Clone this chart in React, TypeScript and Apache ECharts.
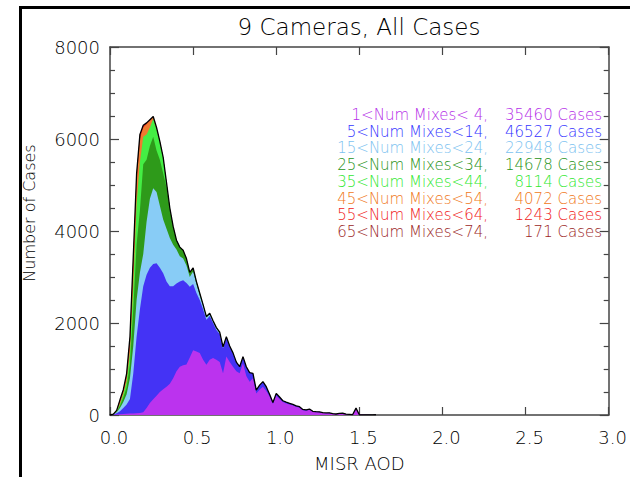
import React, { useEffect, useRef } from "react";
import * as echarts from "echarts";

// AOD bin positions (bin width 0.02)
const aodBins = [
  0, 0.02, 0.04, 0.06, 0.08, 0.1, 0.12, 0.14, 0.16, 0.18,
  0.2, 0.22, 0.24, 0.26, 0.28, 0.3, 0.32, 0.34, 0.36, 0.38,
  0.4, 0.42, 0.44, 0.46, 0.48, 0.5, 0.52, 0.54, 0.56, 0.58,
  0.6, 0.62, 0.64, 0.66, 0.68, 0.7, 0.72, 0.74, 0.76, 0.78,
  0.8, 0.82, 0.84, 0.86, 0.88, 0.9, 0.92, 0.94, 0.96, 0.98,
  1.0, 1.02, 1.04, 1.06, 1.08, 1.1, 1.12, 1.14, 1.16, 1.18,
  1.2, 1.22, 1.24, 1.26, 1.28, 1.3, 1.32, 1.34, 1.36, 1.38,
  1.4, 1.42, 1.44, 1.46, 1.48, 1.5, 1.52, 1.54, 1.56, 1.58,
  1.6,
];

// Cumulative (stacked) number of cases, groups summed from the lowest mix range up
const cumThrough74 = [
  0, 20, 100, 330, 550, 900, 1700, 3450, 5250, 6100,
  6300, 6350, 6420, 6490, 6250, 5950, 5600, 5050, 4500, 4100,
  3800, 3650, 3580, 3400, 3100, 3200, 2900, 2650, 2400, 2140,
  2210, 2050, 1900, 1800, 1480, 1700, 1500, 1350, 1150, 1050,
  1270, 1050, 920, 905, 540, 650, 725, 615, 450, 270,
  470, 390, 310, 280, 255, 230, 200, 180, 120, 110,
  130, 80, 72, 70, 50, 45, 48, 30, 22, 35,
  38, 20, 15, 10, 150, 5, 4, 3, 3, 2,
  5,
];
const cumThrough64 = [
  0, 20, 98, 320, 540, 880, 1660, 3400, 5220, 6080,
  6290, 6345, 6415, 6488, 6249, 5950, 5600, 5050, 4500,
];
const cumThrough54 = [
  0, 18, 90, 290, 510, 830, 1550, 3200, 5100, 6000,
  6250, 6320, 6400, 6480, 6245, 5948, 5598, 5050, 4500,
];
const cumThrough44 = [
  0, 16, 80, 240, 450, 730, 1350, 2800, 4600, 5500,
  6050, 6100, 6250, 6440, 6220, 5935, 5590, 5045, 4500,
];
const cumThrough34 = [
  0, 14, 70, 200, 380, 600, 1100, 2300, 3700, 4450,
  5450, 5550, 5850, 6050, 5750, 5550, 5250, 4950, 4500, 4100,
  3800, 3650, 3580, 3400, 3100, 3200, 2900, 2650, 2400, 2140,
  2210, 2050, 1900, 1800, 1480, 1700, 1500, 1350, 1150,
];
const cumThrough24 = [
  0, 12, 60, 150, 280, 450, 800, 1500, 2500, 3100,
  3500, 4200, 4700, 4930, 4850, 4550, 4250, 4050, 3850, 3700,
  3600, 3450, 3400, 3250, 3000, 3120, 2850, 2600, 2380, 2120,
  2190, 2035, 1885, 1790, 1470, 1690, 1500, 1350, 1150,
];
const cumThrough14 = [
  0, 10, 40, 80, 150, 230, 350, 900, 1700, 2300,
  2800, 3050, 3200, 3280, 3300, 3200, 3080, 2900, 2800, 2800,
  2860, 2900, 2930, 2870, 2790, 2850, 2650, 2500, 2300, 2070,
  2150, 2000, 1850, 1760, 1450, 1670, 1480, 1330, 1150, 1050,
  1270, 1050, 920, 905, 540, 650, 725, 615, 450, 270,
  470, 390, 310, 280, 255, 230, 200, 180, 120, 110,
  130, 80, 72, 70, 50, 45, 48, 30, 22, 35,
  38, 20, 15, 10, 150, 5, 4, 3, 3, 2,
  5,
];
const cumThrough4 = [
  0, 5, 10, 15, 20, 25, 30, 35, 40, 45,
  60, 150, 260, 340, 420, 500, 560, 615, 680, 800,
  950, 1050, 1080, 1100, 1250, 1410, 1380, 1350, 1200, 1090,
  1200, 1240, 1200, 1150, 905, 1270, 1150, 1050, 950, 905,
  1125, 850, 725, 800, 470, 550, 615, 520, 400, 240,
  420, 350, 280, 250, 230, 205, 180, 160, 105, 95,
  115, 70, 62, 60, 42, 38, 40, 25, 18, 30,
  32, 16, 12, 8, 140, 4, 3, 2, 2, 1,
  4,
];

const mixRanges = [
  "1<Num Mixes< 4,",
  "5<Num Mixes<14,",
  "15<Num Mixes<24,",
  "25<Num Mixes<34,",
  "35<Num Mixes<44,",
  "45<Num Mixes<54,",
  "55<Num Mixes<64,",
  "65<Num Mixes<74,",
];
const caseCounts = [35460, 46527, 22948, 14678, 8114, 4072, 1243, 171];

const fillColors = ["#bb33ee", "#4433f5", "#88ccf6", "#2e9a1a", "#44ee44", "#f07a30", "#e82222", "#a02424"];
const textColors = ["#b52ee8", "#3434ff", "#7cc2f0", "#1f9216", "#2fe82f", "#f07820", "#f01818", "#9a1e1e"];

const FONT = "'DejaVu Sans', Verdana, sans-serif";
const INK = "#000";

export default function App() {
  const ref = useRef<HTMLDivElement>(null);

  useEffect(() => {
    if (!ref.current) return;
    const chart = echarts.init(ref.current, null, { renderer: "svg" });
    const pairs = (ys: number[]) => ys.map((y, i) => [aodBins[i], y]);

    const layers = [
      cumThrough4,
      cumThrough14,
      cumThrough24,
      cumThrough34,
      cumThrough44,
      cumThrough54,
      cumThrough64,
      cumThrough74,
    ];

    const areaSeries: any[] = [];
    for (let k = layers.length - 1; k >= 0; k--) {
      areaSeries.push({
        type: "line",
        name: mixRanges[k],
        data: pairs(layers[k]),
        symbol: "none",
        showSymbol: false,
        silent: true,
        lineStyle: { width: 0, opacity: 0 },
        areaStyle: { color: fillColors[k], opacity: 1 },
        z: 2,
      });
    }
    areaSeries.push({
      type: "line",
      name: "outline",
      data: pairs(cumThrough74),
      symbol: "none",
      showSymbol: false,
      silent: true,
      lineStyle: { width: 1.3, color: "#000" },
      z: 3,
    });

    const axisLine = { show: true, onZero: false, lineStyle: { color: "#444", width: 1.5 } };
    const tickStyle = { color: "#444", width: 1.2 };
    const txt = (extra: any) => ({
      fontFamily: FONT,
      fontWeight: 200,
      verticalAlign: "middle",
      textVerticalAlign: "middle",
      ...extra,
    });

    const graphic: any[] = [
      {
        type: "polyline",
        shape: { points: [[20.5, 477], [20.5, 7.5], [630, 7.5]] },
        style: { stroke: "#000", lineWidth: 3, fill: null },
        silent: true,
      },
      {
        type: "text",
        x: 359,
        y: 27,
        style: txt({ text: "9 Cameras, All Cases", fill: INK, fontSize: 23, align: "center", textAlign: "center" }),
      },
      {
        type: "text",
        x: 29,
        y: 213,
        rotation: Math.PI / 2,
        style: txt({ text: "Number of Cases", fill: INK, fontSize: 16, align: "center", textAlign: "center" }),
      },
    ];
    mixRanges.forEach((label, i) => {
      const y = 115 + i * 16.7;
      graphic.push({
        type: "text",
        x: 488,
        y,
        style: txt({ text: label, fill: textColors[i], fontSize: 15, align: "right", textAlign: "right" }),
      });
      graphic.push({
        type: "text",
        x: 602,
        y,
        style: txt({ text: caseCounts[i] + " Cases", fill: textColors[i], fontSize: 15, align: "right", textAlign: "right" }),
      });
    });

    const labelFont = { fontSize: 18, fontFamily: FONT, fontWeight: 200, color: INK };

    chart.setOption({
      animation: false,
      backgroundColor: "#fff",
      grid: { left: 110, right: 21, top: 47, bottom: 62 },
      xAxis: [
        {
          type: "value",
          position: "bottom",
          min: 0,
          max: 3,
          interval: 0.5,
          axisLine,
          axisTick: { show: true, inside: true, length: 8, lineStyle: tickStyle },
          axisLabel: {
            formatter: (v: number) => v.toFixed(1),
            ...labelFont,
            margin: 13,
            padding: [0, 0, 0, 8],
          },
          splitLine: { show: false },
          name: "MISR AOD",
          nameLocation: "middle",
          nameGap: 39,
          nameTextStyle: labelFont,
        },
        {
          type: "value",
          position: "top",
          min: 0,
          max: 3,
          interval: 0.5,
          axisLine,
          axisTick: { show: true, inside: true, length: 8, lineStyle: tickStyle },
          axisLabel: { show: false },
          splitLine: { show: false },
        },
      ],
      yAxis: [
        {
          type: "value",
          position: "left",
          min: 0,
          max: 8000,
          interval: 2000,
          axisLine,
          axisTick: { show: true, inside: true, length: 9, lineStyle: tickStyle },
          minorTick: { show: true, splitNumber: 4, length: 5, lineStyle: tickStyle },
          axisLabel: {
            formatter: (v: number) => String(v),
            ...labelFont,
            margin: 10,
          },
          splitLine: { show: false },
          minorSplitLine: { show: false },
        },
        {
          type: "value",
          position: "right",
          min: 0,
          max: 8000,
          interval: 2000,
          axisLine,
          axisTick: { show: true, inside: true, length: 9, lineStyle: tickStyle },
          minorTick: { show: true, splitNumber: 4, length: 5, lineStyle: tickStyle },
          axisLabel: { show: false },
          splitLine: { show: false },
          minorSplitLine: { show: false },
        },
      ],
      series: areaSeries,
      graphic,
    });

    return () => chart.dispose();
  }, []);

  return (
    <div
      ref={ref}
      style={{ position: "fixed", left: 0, top: 0, width: 630, height: 477 }}
    />
  );
}
